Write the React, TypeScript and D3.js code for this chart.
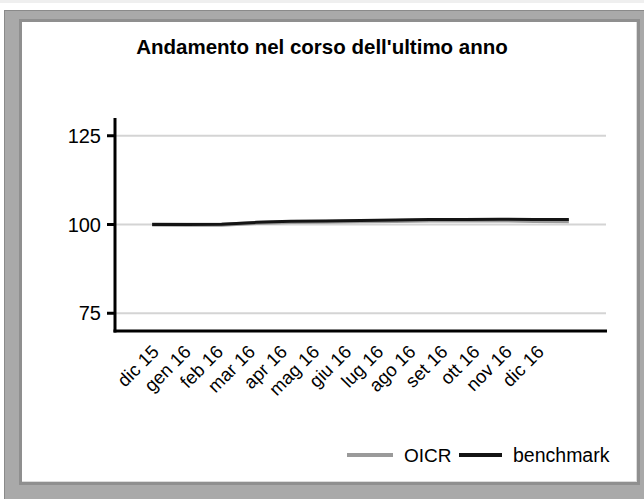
import React from "react";
import * as d3 from "d3";

const months = [
  "dic 15", "gen 16", "feb 16", "mar 16", "apr 16", "mag 16", "giu 16",
  "lug 16", "ago 16", "set 16", "ott 16", "nov 16", "dic 16",
];
const oicr = [100, 99.9, 99.9, 100.4, 100.7, 100.8, 100.9, 101.0, 101.1, 101.1, 101.2, 101.0, 100.9];
const benchmark = [100, 100.0, 100.1, 100.6, 100.9, 101.0, 101.1, 101.3, 101.4, 101.4, 101.5, 101.4, 101.4];
const yTicks = [75, 100, 125];

const W = 644;
const H = 499;
const plot = { left: 115, right: 606, top: 118, bottom: 331 };
const font = "'Liberation Sans', Arial, sans-serif";

export default function App() {
  // data positions
  const x = d3
    .scalePoint<string>()
    .domain(months)
    .range([plot.left, plot.right])
    .padding(1.07);
  const y = d3.scaleLinear().domain([70, 130]).range([plot.bottom, plot.top]);

  // tick labels sit on their own, slightly narrower spacing
  const xl = d3.scalePoint<string>().domain(months).range([160, 545]);

  const line = d3
    .line<number>()
    .x((_, i) => x(months[i]) as number)
    .y((d) => y(d));

  return (
    <svg
      width={W}
      height={H}
      style={{ position: "absolute", left: 0, top: 0, fontFamily: font }}
    >
      {/* page strip + frame */}
      <rect x={0} y={0} width={W} height={3} fill="#efefef" />
      <rect x={4.5} y={10.5} width={660} height={510} fill="#a9a9a9" stroke="#8a8a8a" />
      <rect x={19} y={19} width={621} height={466} fill="#8f8f8f" />
      <rect x={22} y={22} width={615} height={460} fill="#dcdcdc" />
      <rect x={22} y={22} width={614} height={459} fill="#ffffff" />

      <text
        x={322}
        y={54}
        textAnchor="middle"
        fontSize={20.5}
        fontWeight="bold"
        fill="#000"
      >
        Andamento nel corso dell'ultimo anno
      </text>

      {/* grid */}
      {yTicks.map((t) => (
        <line
          key={"g" + t}
          x1={plot.left}
          x2={plot.right}
          y1={y(t)}
          y2={y(t)}
          stroke="#d4d4d4"
          strokeWidth={2}
        />
      ))}

      {/* series */}
      <path d={line(oicr) ?? ""} fill="none" stroke="#9a9a9a" strokeWidth={4} />
      <path d={line(benchmark) ?? ""} fill="none" stroke="#141414" strokeWidth={3} />

      {/* axes */}
      <line x1={plot.left} x2={plot.left} y1={plot.top} y2={plot.bottom + 1.5} stroke="#000" strokeWidth={3} />
      <line x1={plot.left - 1.5} x2={plot.right + 1} y1={plot.bottom} y2={plot.bottom} stroke="#000" strokeWidth={3} />
      {yTicks.map((t) => (
        <g key={"t" + t}>
          <line x1={plot.left - 8} x2={plot.left} y1={y(t)} y2={y(t)} stroke="#000" strokeWidth={3} />
          <text
            x={plot.left - 14}
            y={y(t)}
            dy="0.35em"
            textAnchor="end"
            fontSize={20}
            fill="#000"
          >
            {t}
          </text>
        </g>
      ))}
      {months.map((m) => (
        <text
          key={m}
          transform={`translate(${xl(m)},${353}) rotate(-45)`}
          textAnchor="end"
          fontSize={18.5}
          fill="#000"
        >
          {m}
        </text>
      ))}

      {/* legend */}
      <line x1={347} x2={393} y1={455} y2={455} stroke="#9a9a9a" strokeWidth={4} />
      <text x={404} y={462} fontSize={19} fill="#000">OICR</text>
      <line x1={459} x2={502} y1={455} y2={455} stroke="#141414" strokeWidth={4} />
      <text x={513} y={462} fontSize={19.5} fill="#000">benchmark</text>
    </svg>
  );
}
